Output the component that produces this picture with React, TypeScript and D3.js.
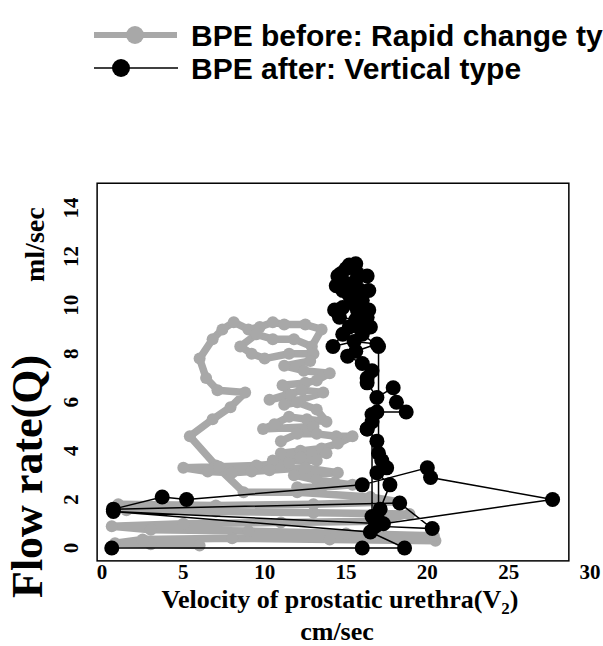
import React from "react";
import * as d3 from "d3";

const xTicks = [0, 5, 10, 15, 20, 25, 30];
const yTicks = [0, 2, 4, 6, 8, 10, 12, 14];

const legendLabels = ["BPE before: Rapid change type", "BPE after: Vertical type"];

// BPE before (gray): velocity V2 (cm/sec) and flow Q (ml/sec)
const beforeV = [6.0, 3.0, 0.8, 2.5, 8.0, 14.0, 20.5, 20.4, 15.0, 9.0, 3.0, 0.6, 5.0, 11.0, 17.0, 18.9, 13.0, 7.0, 1.5, 1.0, 7.0, 13.0, 18.3, 16.5, 12.0, 8.7,
  7.0, 5.4, 6.8, 7.9, 8.8, 7.1, 6.4, 6.0, 6.8, 7.4, 8.1, 9.0, 9.7, 10.5, 11.2, 12.5, 13.5, 12.9, 11.8, 10.5, 9.5, 8.5, 9.2, 10.0, 11.5, 13.0, 12.8, 11.2, 12.4, 14.0, 13.2, 12.5, 11.1, 11.6, 10.3, 12.3, 13.6, 11.2, 12.0, 13.2, 13.8, 12.6, 11.5, 10.6, 9.9, 13.0, 11.0, 12.0, 13.2, 14.4, 15.4, 14.5, 13.5, 12.2, 11.0, 13.8, 12.2, 13.2, 10.5, 11.5, 9.5, 7.2, 5.0, 6.5, 8.0, 9.2, 10.3, 12.5, 14.5, 11.8, 13.2, 14.3, 15.4, 13.5, 12.0];
const beforeQ = [0.1, 0.15, 0.2, 0.35, 0.4, 0.35, 0.3, 0.5, 0.6, 0.7, 0.75, 0.9, 1.0, 1.05, 1.1, 1.4, 1.45, 1.5, 1.55, 1.8, 1.75, 1.8, 1.9, 2.1, 2.3, 2.3,
  3.4, 4.6, 5.3, 5.8, 6.4, 6.5, 7.0, 7.8, 8.6, 9.0, 9.3, 9.0, 9.1, 9.3, 9.2, 9.2, 9.0, 8.3, 8.6, 8.6, 8.8, 8.3, 8.0, 7.8, 8.0, 8.0, 7.7, 7.5, 7.3, 7.2, 6.9, 6.8, 6.7, 6.3, 6.1, 6.5, 6.4, 5.9, 6.0, 5.7, 5.2, 5.3, 5.4, 5.1, 4.9, 5.0, 4.4, 4.7, 4.7, 4.6, 4.6, 4.3, 4.1, 4.0, 3.9, 3.9, 3.75, 3.6, 3.6, 3.5, 3.4, 3.35, 3.3, 3.15, 3.1, 3.15, 3.2, 3.3, 3.1, 3.0, 2.8, 2.7, 2.6, 2.5, 2.5];

// BPE after (black)
const afterV = [0.6, 16.0, 18.6, 16.5, 0.7, 17.3, 27.7, 20.2, 20.0, 16.0, 5.2, 3.7, 0.7, 18.3, 20.3, 16.8, 16.9, 17.1, 17.7, 16.9, 17.5, 17.2, 17.0, 16.9, 16.3, 16.6, 16.9, 18.7, 18.1, 17.9, 16.9, 16.3, 16.3, 16.6, 16.0, 15.1, 15.6, 16.9, 15.5, 14.2, 14.8, 15.2, 15.9, 16.5, 16.3, 15.6, 14.6, 14.3, 14.8, 15.4, 16.0, 16.4, 15.2, 14.8, 14.4, 15.4, 15.9, 16.4, 16.3, 15.7, 15.6, 15.2, 15.0, 14.7, 14.5, 15.0, 15.6, 15.3, 15.7, 16.0, 17.0, 17.0, 16.6, 16.6, 16.3];
const afterQ = [0.0, 0.0, 0.0, 0.66, 1.5, 1.0, 2.0, 2.9, 3.3, 2.6, 2.0, 2.1, 1.6, 1.85, 0.8, 0.9, 1.3, 1.6, 2.6, 3.1, 3.3, 3.6, 3.9, 4.4, 4.9, 5.2, 5.6, 5.6, 6.0, 6.6, 6.2, 6.8, 7.0, 7.3, 7.6, 7.9, 8.1, 8.4, 8.5, 8.3, 8.8, 9.1, 9.0, 9.1, 9.5, 9.4, 9.5, 9.8, 9.9, 10.1, 10.2, 9.8, 10.4, 10.6, 10.8, 10.7, 10.6, 10.6, 11.2, 11.3, 11.7, 11.65, 11.5, 11.3, 11.2, 10.9, 11.0, 10.4, 9.8, 8.8, 8.3, 1.1, 1.3, 5.5, 4.9];

const W = 603;
const H = 646;
const GRAY = "#a8a8a8";
const SERIF = "'Liberation Serif', 'DejaVu Serif', serif";
const SANS = "'Liberation Sans', Arial, sans-serif";

export default function App() {
  const x = d3.scaleLinear().domain([0, 30]).range([102, 590]);
  const y = d3.scaleLinear().domain([0, 14]).range([548, 208]);
  const bx0 = x(-0.3), bx1 = x(28.7), by0 = y(-0.53), by1 = y(15.02);

  const before = beforeV.map((v, i) => [v, beforeQ[i]] as [number, number]);
  const after = afterV.map((v, i) => [v, afterQ[i]] as [number, number]);
  const line = d3.line<[number, number]>().x(d => x(d[0])).y(d => y(d[1]));

  return (
    <svg width={W} height={H} style={{ position: "absolute", left: 0, top: 0, background: "#fff" }}>
      <rect x={0} y={0} width={W} height={H} fill="#fff" />
      {/* legend */}
      <g>
        <line x1={94} x2={177} y1={35} y2={35} stroke={GRAY} strokeWidth={6} />
        <circle cx={135} cy={35} r={9} fill={GRAY} />
        <text x={191} y={46} fontFamily={SANS} fontWeight={700} fontSize={30} fill="#000">{legendLabels[0]}</text>
        <line x1={94} x2={178} y1={68} y2={68} stroke="#000" strokeWidth={1.5} />
        <circle cx={121} cy={68} r={9} fill="#000" />
        <text x={191} y={79} fontFamily={SANS} fontWeight={700} fontSize={30} fill="#000">{legendLabels[1]}</text>
      </g>
      {/* plot box */}
      <rect x={bx0} y={by1} width={bx1 - bx0} height={by0 - by1} fill="none" stroke="#000" strokeWidth={1.5} />
      {/* gray series */}
      <path d={line(before) || ""} fill="none" stroke={GRAY} strokeWidth={7.5} strokeLinejoin="round" />
      {before.map((d, i) => (
        <circle key={"b" + i} cx={x(d[0])} cy={y(d[1])} r={6} fill={GRAY} />
      ))}
      {/* black series */}
      <path d={line(after) || ""} fill="none" stroke="#000" strokeWidth={1.5} />
      {after.map((d, i) => (
        <circle key={"a" + i} cx={x(d[0])} cy={y(d[1])} r={7.5} fill="#000" />
      ))}
      {/* x ticks */}
      {xTicks.map(t => (
        <text key={"xt" + t} x={x(t)} y={579} textAnchor="middle" fontFamily={SERIF} fontWeight={700} fontSize={21}>{t}</text>
      ))}
      {/* y ticks */}
      {yTicks.map(t => (
        <text key={"yt" + t} transform={`translate(78,${y(t)}) rotate(-90)`} textAnchor="middle" fontFamily={SERIF} fontWeight={700} fontSize={21}>{t}</text>
      ))}
      {/* y title */}
      <text transform="translate(42,598) rotate(-90)" fontFamily={SERIF} fontWeight={700} fontSize={44}>Flow rate(Q)</text>
      <text transform="translate(44,282) rotate(-90)" fontFamily={SERIF} fontWeight={700} fontSize={28}>ml/sec</text>
      {/* x title */}
      <text x={340} y={608} textAnchor="middle" fontFamily={SERIF} fontWeight={700} fontSize={26}>
        Velocity of prostatic urethra(V<tspan fontSize={17} dy={6}>2</tspan><tspan dy={-6}>)</tspan>
      </text>
      <text x={337} y={640} textAnchor="middle" fontFamily={SERIF} fontWeight={700} fontSize={26}>cm/sec</text>
    </svg>
  );
}
